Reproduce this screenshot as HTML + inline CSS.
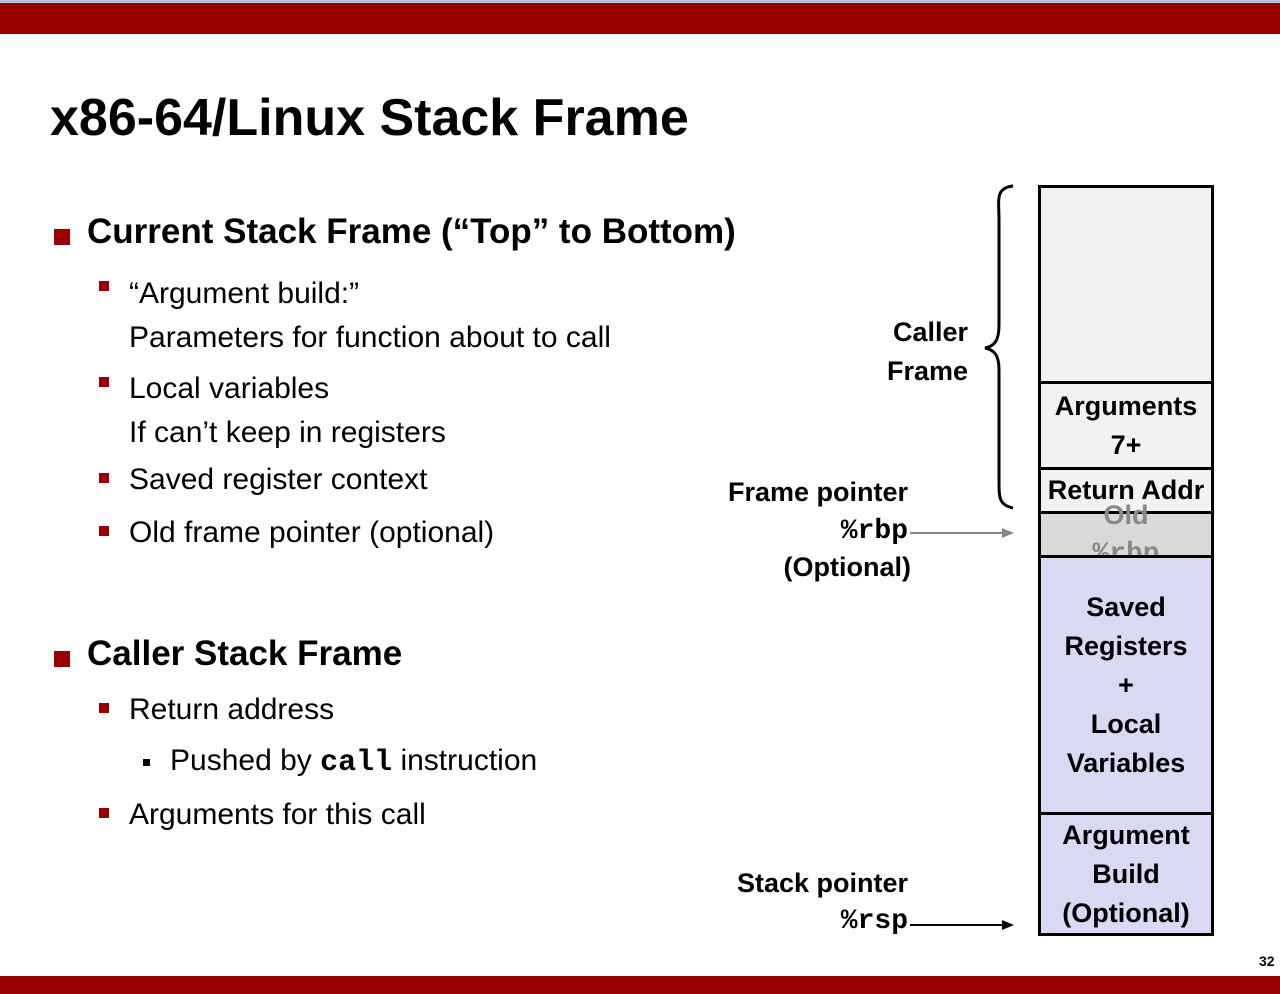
<!DOCTYPE html><html><head><style>
body{margin:0;width:1280px;height:994px;position:relative;background:#fff;font-family:"Liberation Sans",sans-serif;overflow:hidden}
.a{position:absolute;white-space:nowrap}
.b{font-weight:bold}
.m{font-family:"Liberation Mono",monospace;font-weight:bold}
.sq{position:absolute;background:#9a0000}
.cell{position:absolute;left:1038px;width:176px;border:3px solid #000;border-bottom:none;text-align:center;font-weight:bold;font-size:27px;display:flex;flex-direction:column;justify-content:center;line-height:39px;box-sizing:border-box}
</style></head><body>
<div class="a" style="left:0;top:0;width:1280px;height:3px;background:#b8c4dc"></div>
<div class="a" style="left:0;top:3px;width:1280px;height:31px;background:#990000"></div>
<div class="a" style="left:0;top:976px;width:1280px;height:18px;background:#990000"></div>
<div class="a b" style="left:50px;top:88px;font-size:52px">x86-64/Linux Stack Frame</div>

<div class="sq" style="left:54px;top:229px;width:16px;height:16px"></div>
<div class="a b" style="left:87px;top:212px;font-size:35px">Current Stack Frame (“Top” to Bottom)</div>
<div class="sq" style="left:99px;top:281px;width:10px;height:10px"></div>
<div class="a" style="left:129px;top:272px;font-size:30px;line-height:44px">“Argument build:”<br>Parameters for function about to call</div>
<div class="sq" style="left:99px;top:377px;width:10px;height:10px"></div>
<div class="a" style="left:129px;top:367px;font-size:30px;line-height:44px">Local variables<br>If can’t keep in registers</div>
<div class="sq" style="left:99px;top:473px;width:10px;height:10px"></div>
<div class="a" style="left:129px;top:463px;font-size:30px">Saved register context</div>
<div class="sq" style="left:99px;top:526px;width:10px;height:10px"></div>
<div class="a" style="left:129px;top:516px;font-size:30px">Old frame pointer (optional)</div>

<div class="sq" style="left:54px;top:651px;width:16px;height:16px"></div>
<div class="a b" style="left:87px;top:634px;font-size:35px">Caller Stack Frame</div>
<div class="sq" style="left:99px;top:703px;width:10px;height:10px"></div>
<div class="a" style="left:129px;top:693px;font-size:30px">Return address</div>
<div class="a" style="left:143px;top:759px;width:7px;height:7px;background:#000"></div>
<div class="a" style="left:170px;top:744px;font-size:30px">Pushed by <span class="m" style="font-size:30px">call</span> instruction</div>
<div class="sq" style="left:99px;top:808px;width:10px;height:10px"></div>
<div class="a" style="left:129px;top:798px;font-size:30px">Arguments for this call</div>

<div class="a b" style="left:880px;top:313px;font-size:27px;line-height:39px;text-align:right;width:88px">Caller<br>Frame</div>
<svg class="a" style="left:975px;top:180px" width="40" height="335"><path d="M38 6 C20 8 24 20 24 40 L24 145 C24 160 20 166 10 168 C20 170 24 176 24 190 L24 300 C24 318 24 325 38 328" fill="none" stroke="#000" stroke-width="3"/></svg>

<div class="a b" style="left:700px;top:477px;font-size:27px;width:208px;text-align:right">Frame pointer</div>
<div class="a m" style="left:700px;top:516px;font-size:28px;width:208px;text-align:right">%rbp</div>
<div class="a b" style="left:700px;top:552px;font-size:27px;width:211px;text-align:right">(Optional)</div>
<svg class="a" style="left:910px;top:525px" width="110" height="16"><line x1="0" y1="8" x2="96" y2="8" stroke="#888" stroke-width="2"/><path d="M92 3 L104 8 L92 13Z" fill="#888"/></svg>

<div class="a b" style="left:700px;top:868px;font-size:27px;width:208px;text-align:right">Stack pointer</div>
<div class="a m" style="left:700px;top:906px;font-size:28px;width:208px;text-align:right">%rsp</div>
<svg class="a" style="left:910px;top:917px" width="110" height="16"><line x1="0" y1="8" x2="96" y2="8" stroke="#000" stroke-width="2"/><path d="M92 3 L104 8 L92 13Z" fill="#000"/></svg>

<div class="cell" style="top:185px;height:196px;background:#f2f2f2"></div>
<div class="cell" style="top:381px;height:86px;background:#f2f2f2">Arguments<br>7+</div>
<div class="cell" style="top:467px;height:44px;background:#f2f2f2">Return Addr</div>
<div class="cell" style="top:511px;height:44px;background:#d9d9d9;color:#888">Old <span class="m" style="font-size:28px;display:inline">%rbp</span></div>
<div class="cell" style="top:555px;height:257px;background:#d9d9f3">Saved<br>Registers<br>+<br>Local<br>Variables</div>
<div class="cell" style="top:812px;height:124px;background:#d9d9f3;border-bottom:3px solid #000">Argument<br>Build<br>(Optional)</div>
<div class="a b" style="left:1259px;top:953px;font-size:14px">32</div>
</body></html>
